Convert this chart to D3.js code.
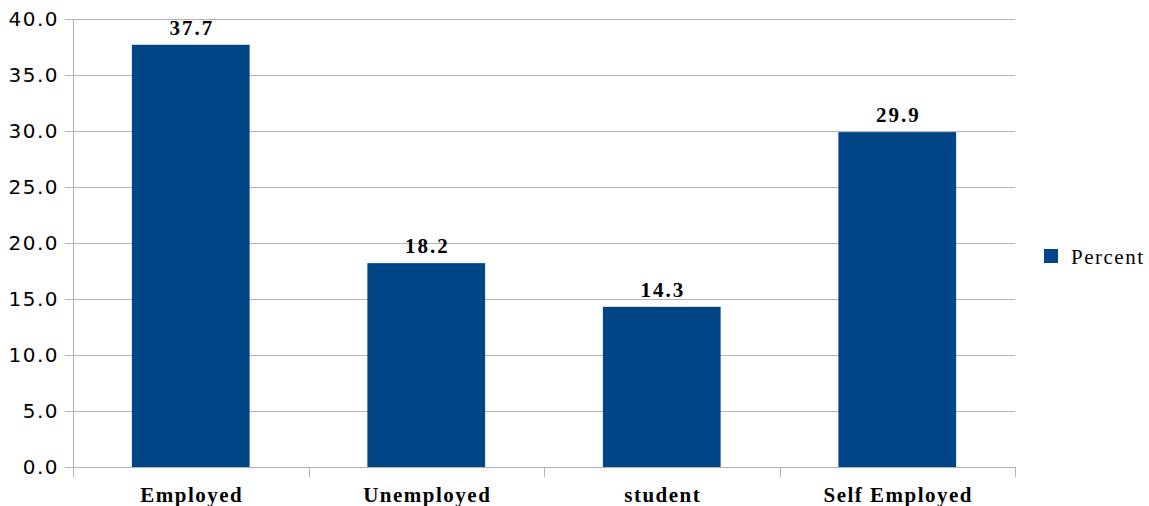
<!DOCTYPE html>
<html>
<head>
<meta charset="utf-8">
<script src="https://cdn.jsdelivr.net/npm/d3@7"></script>
<style>
  html, body { margin: 0; padding: 0; background: #fff; }
  svg { display: block; }
</style>
</head>
<body>
<svg id="chart" width="1149" height="506"></svg>
<script>
// Occupation shares (percent)
const categories = ["Employed", "Unemployed", "student", "Self Employed"];
const percentValues = [37.7, 18.2, 14.3, 29.9];
const yTicks = [0, 5, 10, 15, 20, 25, 30, 35, 40];
const seriesName = "Percent";

const W = 1149, H = 506;
const margin = { left: 73, right: 134, top: 19, bottom: 39 };
const barColor = "#004586";
const gridColor = "#b3b3b3";

const svg = d3.select("#chart");

const x = d3.scaleBand()
  .domain(categories)
  .range([margin.left, W - margin.right])
  .paddingInner(0.5)
  .paddingOuter(0.25);

const y = d3.scaleLinear()
  .domain([0, 40])
  .range([H - margin.bottom, margin.top]);

// horizontal gridlines with small outward ticks
svg.append("g")
  .selectAll("line")
  .data(yTicks)
  .join("line")
  .attr("x1", margin.left - 8)
  .attr("x2", W - margin.right)
  .attr("y1", d => Math.round(y(d)) + 0.5)
  .attr("y2", d => Math.round(y(d)) + 0.5)
  .attr("stroke", gridColor)
  .attr("stroke-width", 1);

// y axis line
svg.append("line")
  .attr("x1", margin.left + 0.5).attr("x2", margin.left + 0.5)
  .attr("y1", y(40)).attr("y2", y(0) + 10)
  .attr("stroke", gridColor);

// category separators below the baseline
const bounds = categories.map(c => x(c) - x.step() * x.paddingInner() / 2);
bounds.push(W - margin.right);
svg.append("g")
  .selectAll("line")
  .data(bounds)
  .join("line")
  .attr("x1", d => Math.round(d) + 0.5)
  .attr("x2", d => Math.round(d) + 0.5)
  .attr("y1", y(0))
  .attr("y2", y(0) + 10)
  .attr("stroke", gridColor);

// y tick labels
svg.append("g")
  .selectAll("text")
  .data(yTicks)
  .join("text")
  .attr("x", margin.left - 14)
  .attr("y", d => y(d))
  .attr("dy", "0.36em")
  .attr("text-anchor", "end")
  .attr("font-family", "DejaVu Sans, sans-serif")
  .attr("font-size", 20)
  .attr("letter-spacing", 1.5)
  .attr("fill", "#000")
  .text(d => d.toFixed(1));

// bars
svg.append("g")
  .selectAll("rect")
  .data(percentValues)
  .join("rect")
  .attr("x", (d, i) => x(categories[i]))
  .attr("width", x.bandwidth())
  .attr("y", d => y(d))
  .attr("height", d => y(0) - y(d))
  .attr("fill", barColor);

// value labels
svg.append("g")
  .selectAll("text")
  .data(percentValues)
  .join("text")
  .attr("x", (d, i) => x(categories[i]) + x.bandwidth() / 2 + 1)
  .attr("y", d => y(d) - 10)
  .attr("text-anchor", "middle")
  .attr("font-family", "Liberation Serif, serif")
  .attr("font-weight", "bold")
  .attr("font-size", 21)
  .attr("letter-spacing", 2)
  .attr("fill", "#000")
  .text(d => d.toFixed(1));

// category labels
svg.append("g")
  .selectAll("text")
  .data(categories)
  .join("text")
  .attr("x", d => x(d) + x.bandwidth() / 2 + 1)
  .attr("y", y(0) + 35)
  .attr("text-anchor", "middle")
  .attr("font-family", "Liberation Serif, serif")
  .attr("font-weight", "bold")
  .attr("font-size", 21)
  .attr("letter-spacing", 1.5)
  .attr("fill", "#000")
  .text(d => d);

// legend
const lg = svg.append("g").attr("transform", "translate(1044,249)");
lg.append("rect").attr("width", 14).attr("height", 14).attr("fill", barColor);
lg.append("text")
  .attr("x", 27).attr("y", 15)
  .attr("font-family", "Liberation Serif, serif")
  .attr("font-size", 21)
  .attr("letter-spacing", 1.5)
  .attr("fill", "#000")
  .text(seriesName);
</script>
</body>
</html>
